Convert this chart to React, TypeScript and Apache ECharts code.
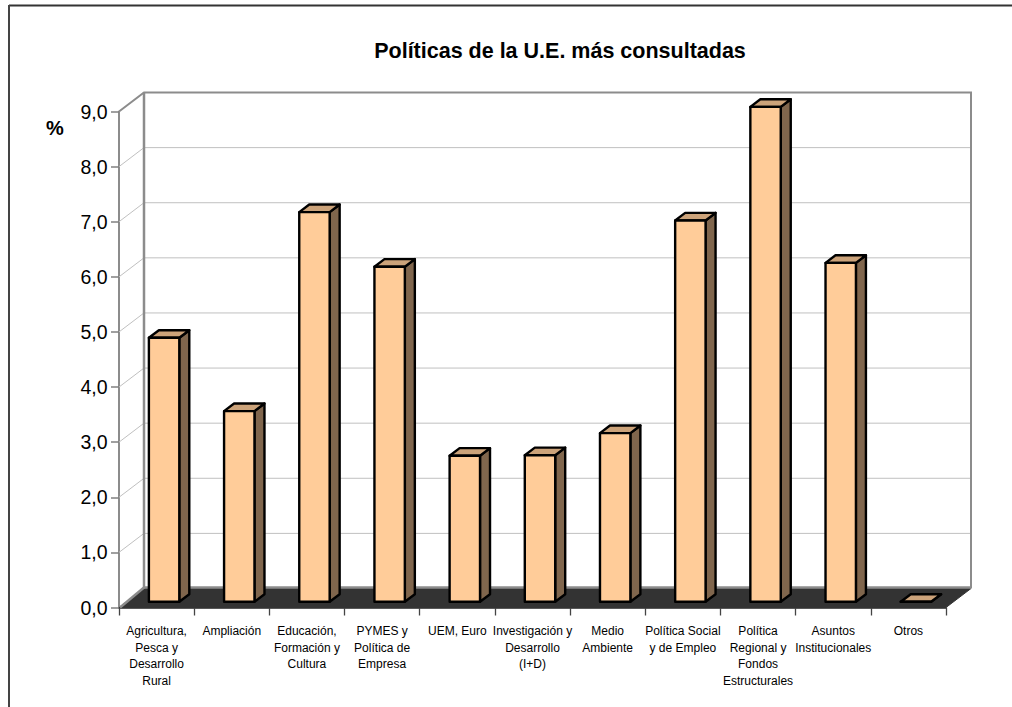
import React, { useEffect, useRef } from "react";
import * as echarts from "echarts";

const categories = [
  "Agricultura,\nPesca y\nDesarrollo\nRural",
  "Ampliación",
  "Educación,\nFormación y\nCultura",
  "PYMES y\nPolítica de\nEmpresa",
  "UEM, Euro",
  "Investigación y\nDesarrollo\n(I+D)",
  "Medio\nAmbiente",
  "Política Social\ny de Empleo",
  "Política\nRegional y\nFondos\nEstructurales",
  "Asuntos\nInstitucionales",
  "Otros",
];
const values = [4.79, 3.46, 7.07, 6.08, 2.65, 2.66, 3.06, 6.92, 8.98, 6.15, 0];
const yTicks = [0, 1, 2, 3, 4, 5, 6, 7, 8, 9];
const titleText = "Políticas de la U.E. más consultadas";
const yUnit = "%";

const FONT = "'Liberation Sans', Arial, sans-serif";
const DX = 25; // full depth of the 3D box
const DY = -19;
const GAP = 0.3; // depth fraction in front of bars
const BAR_DEPTH = 0.4;
const BAR_W = 30.4;

export default function App() {
  const ref = useRef<HTMLDivElement>(null);
  useEffect(() => {
    const chart = echarts.init(ref.current!, undefined, { renderer: "svg" });
    chart.setOption({
      animation: false,
      backgroundColor: "#fff",
      title: {
        text: titleText,
        left: 555,
        top: 35,
        textAlign: "center",
        textStyle: { fontFamily: FONT, fontSize: 21.5, fontWeight: "bold", color: "#000", lineHeight: 22 },
      },
      grid: { left: 119, right: 66, top: 111.5, bottom: 99.5, containLabel: false },
      xAxis: {
        type: "category",
        data: categories,
        axisLine: { lineStyle: { color: "#222", width: 1.5 } },
        axisTick: { show: true, length: 8, lineStyle: { color: "#444", width: 1.3 } },
        axisLabel: {
          interval: 0,
          fontFamily: FONT,
          fontSize: 12,
          lineHeight: 16.7,
          color: "#000",
          margin: 15,
          hideOverlap: false,
        },
        splitLine: { show: false },
      },
      yAxis: {
        type: "value",
        min: 0,
        max: 9,
        interval: 1,
        axisLine: { show: true, lineStyle: { color: "#666", width: 1.5 } },
        axisTick: { show: true, length: 8, lineStyle: { color: "#808080", width: 1.5 } },
        axisLabel: {
          fontFamily: FONT,
          fontSize: 19.5,
          color: "#000",
          margin: 11.5,
          formatter: (v: number) => v.toFixed(1).replace(".", ","),
        },
        splitLine: { show: false },
      },
      graphic: [
        { type: "line", silent: true, shape: { x1: 9, y1: 5.5, x2: 1012, y2: 5.5 }, style: { stroke: "#333", lineWidth: 2 } },
        { type: "line", silent: true, shape: { x1: 9, y1: 5, x2: 9, y2: 707 }, style: { stroke: "#444", lineWidth: 2 } },
        {
          type: "text",
          silent: true,
          x: 55,
          y: 128,
          style: { text: yUnit, font: `bold 20px ${FONT}`, fill: "#000", textAlign: "center", textVerticalAlign: "middle" },
        },
      ],
      series: [
        {
          type: "custom",
          name: "grid",
          z: 1,
          silent: true,
          clip: false,
          data: yTicks.map((t) => [0, t]),
          encode: { x: 0, y: 1 },
          renderItem: (_p: any, api: any) => {
            const p = api.coord([0, api.value(1)]);
            const band = api.size([1, 0])[0];
            const xL = p[0] - band / 2;
            const xR = api.coord([categories.length - 1, 0])[0] + band / 2;
            return {
              type: "polyline",
              shape: { points: [[xL, p[1]], [xL + DX, p[1] + DY], [xR + DX, p[1] + DY]] },
              style: { stroke: "#c0c0c0", lineWidth: 1, fill: "none" },
            };
          },
        },
        {
          type: "custom",
          name: "walls",
          z: 2,
          silent: true,
          clip: false,
          data: [[0, 9]],
          encode: { x: 0, y: 1 },
          renderItem: (_p: any, api: any) => {
            const top = api.coord([0, api.value(1)]);
            const base = api.coord([0, 0]);
            const band = api.size([1, 0])[0];
            const xL = base[0] - band / 2;
            const xR = api.coord([categories.length - 1, 0])[0] + band / 2;
            const yF = base[1];
            const yB = yF + DY;
            const yT = top[1] + DY;
            const gray = { stroke: "#8c8c8c", lineWidth: 2, fill: "none" };
            return {
              type: "group",
              children: [
                { type: "polygon", shape: { points: [[xL, yF], [xL + DX, yB], [xR + DX, yB], [xR, yF]] }, style: { fill: "#333333", stroke: "#333333", lineWidth: 1 } },
                { type: "line", shape: { x1: xL + 1, y1: yF, x2: xL + DX, y2: yB - 1 }, style: { ...gray, lineWidth: 2.5 } },
                { type: "polyline", shape: { points: [[xL + DX, yB - 1], [xR + DX, yB - 1]] }, style: { ...gray, lineWidth: 2.5 } },
                { type: "polyline", shape: { points: [[xL, top[1]], [xL + DX, yT], [xR + DX, yT], [xR + DX, yB]] }, style: gray },
                { type: "line", shape: { x1: xL + DX, y1: yT, x2: xL + DX, y2: yB }, style: { ...gray, lineWidth: 2.5 } },
              ],
            };
          },
        },
        {
          type: "custom",
          name: "bars",
          z: 3,
          silent: true,
          clip: false,
          data: values.map((v, i) => [i, v]),
          encode: { x: 0, y: 1 },
          renderItem: (_p: any, api: any) => {
            const i = api.value(0);
            const p = api.coord([i, api.value(1)]);
            const b = api.coord([i, 0]);
            const ox = DX * GAP;
            const oy = DY * GAP;
            const dx = DX * BAR_DEPTH;
            const dy = DY * BAR_DEPTH;
            const xl = p[0] + ox - BAR_W / 2;
            const xr = xl + BAR_W;
            const yt = p[1] + oy;
            const yb = b[1] + oy;
            const line = { stroke: "#000", lineWidth: 2.4, lineJoin: "round" };
            return {
              type: "group",
              children: [
                { type: "polygon", shape: { points: [[xr, yt], [xr + dx, yt + dy], [xr + dx, yb + dy], [xr, yb]] }, style: { fill: "#80664D", ...line } },
                { type: "polygon", shape: { points: [[xl, yt], [xl + dx, yt + dy], [xr + dx, yt + dy], [xr, yt]] }, style: { fill: "#CCA37A", ...line } },
                { type: "polygon", shape: { points: [[xl, yt], [xr, yt], [xr, yb], [xl, yb]] }, style: { fill: "#FFCC99", ...line } },
              ],
            };
          },
        },
      ],
    });
    return () => chart.dispose();
  }, []);
  return <div ref={ref} style={{ position: "absolute", left: 0, top: 0, width: 1012, height: 707 }} />;
}
